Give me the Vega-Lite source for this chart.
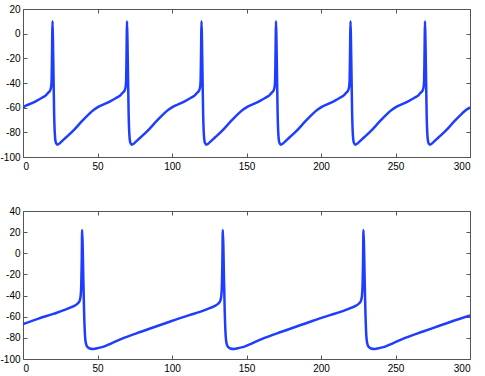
{
  "$schema": "https://vega.github.io/schema/vega-lite/v6.json",
  "padding": {"left": -1, "top": 4, "right": 3, "bottom": 2},
  "spacing": 35,
  "config": {
    "view": {"stroke": null},
    "font": "Liberation Sans",
    "axis": {"grid": false, "domainColor": "#555", "domainWidth": 1, "tickColor": "#555", "tickSize": -4, "labelColor": "#000", "labelFontSize": 10, "title": null},
    "axisX": {"labelPadding": 8},
    "axisY": {"labelPadding": 7, "labelExpr": "toString(datum.value)"}
  },
  "datasets": {
    "top": [
      {"x":0,"v":-60},{"x":0.8,"v":-59.2},{"x":4.8,"v":-57},{"x":8.8,"v":-54.7},{"x":12.8,"v":-52},{"x":15.3,"v":-50},{"x":16.8,"v":-48},{"x":18.2,"v":-46},{"x":18.9,"v":-43},{"x":19.2,"v":-38},{"x":19.4,"v":-25},{"x":19.6,"v":-5},{"x":19.8,"v":10},
      {"x":20.1,"v":-5},{"x":20.5,"v":-35},{"x":20.9,"v":-65},{"x":21.4,"v":-82},{"x":22.1,"v":-88.5},{"x":23.1,"v":-90},{"x":24.1,"v":-89.5},{"x":25.8,"v":-87.5},{"x":28.8,"v":-84.2},{"x":33.4,"v":-79},{"x":38.8,"v":-72},{"x":44.6,"v":-64.8},{"x":47.8,"v":-61.5},{"x":50.8,"v":-59.2},{"x":54.8,"v":-57},{"x":58.8,"v":-54.7},{"x":62.8,"v":-52},{"x":65.3,"v":-50},{"x":66.8,"v":-48},{"x":68.2,"v":-46},{"x":68.9,"v":-43},{"x":69.2,"v":-38},{"x":69.4,"v":-25},{"x":69.6,"v":-5},{"x":69.8,"v":10},
      {"x":70.1,"v":-5},{"x":70.5,"v":-35},{"x":70.9,"v":-65},{"x":71.4,"v":-82},{"x":72.1,"v":-88.5},{"x":73.1,"v":-90},{"x":74.1,"v":-89.5},{"x":75.8,"v":-87.5},{"x":78.8,"v":-84.2},{"x":83.4,"v":-79},{"x":88.8,"v":-72},{"x":94.6,"v":-64.8},{"x":97.8,"v":-61.5},{"x":100.8,"v":-59.2},{"x":104.8,"v":-57},{"x":108.8,"v":-54.7},{"x":112.8,"v":-52},{"x":115.3,"v":-50},{"x":116.8,"v":-48},{"x":118.2,"v":-46},{"x":118.9,"v":-43},{"x":119.2,"v":-38},{"x":119.4,"v":-25},{"x":119.6,"v":-5},{"x":119.8,"v":10},
      {"x":120.1,"v":-5},{"x":120.5,"v":-35},{"x":120.9,"v":-65},{"x":121.4,"v":-82},{"x":122.1,"v":-88.5},{"x":123.1,"v":-90},{"x":124.1,"v":-89.5},{"x":125.8,"v":-87.5},{"x":128.8,"v":-84.2},{"x":133.4,"v":-79},{"x":138.8,"v":-72},{"x":144.6,"v":-64.8},{"x":147.8,"v":-61.5},{"x":150.8,"v":-59.2},{"x":154.8,"v":-57},{"x":158.8,"v":-54.7},{"x":162.8,"v":-52},{"x":165.3,"v":-50},{"x":166.8,"v":-48},{"x":168.2,"v":-46},{"x":168.9,"v":-43},{"x":169.2,"v":-38},{"x":169.4,"v":-25},{"x":169.6,"v":-5},{"x":169.8,"v":10},
      {"x":170.1,"v":-5},{"x":170.5,"v":-35},{"x":170.9,"v":-65},{"x":171.4,"v":-82},{"x":172.1,"v":-88.5},{"x":173.1,"v":-90},{"x":174.1,"v":-89.5},{"x":175.8,"v":-87.5},{"x":178.8,"v":-84.2},{"x":183.4,"v":-79},{"x":188.8,"v":-72},{"x":194.6,"v":-64.8},{"x":197.8,"v":-61.5},{"x":200.8,"v":-59.2},{"x":204.8,"v":-57},{"x":208.8,"v":-54.7},{"x":212.8,"v":-52},{"x":215.3,"v":-50},{"x":216.8,"v":-48},{"x":218.2,"v":-46},{"x":218.9,"v":-43},{"x":219.2,"v":-38},{"x":219.4,"v":-25},{"x":219.6,"v":-5},{"x":219.8,"v":10},
      {"x":220.1,"v":-5},{"x":220.5,"v":-35},{"x":220.9,"v":-65},{"x":221.4,"v":-82},{"x":222.1,"v":-88.5},{"x":223.1,"v":-90},{"x":224.1,"v":-89.5},{"x":225.8,"v":-87.5},{"x":228.8,"v":-84.2},{"x":233.4,"v":-79},{"x":238.8,"v":-72},{"x":244.6,"v":-64.8},{"x":247.8,"v":-61.5},{"x":250.8,"v":-59.2},{"x":254.8,"v":-57},{"x":258.8,"v":-54.7},{"x":262.8,"v":-52},{"x":265.3,"v":-50},{"x":266.8,"v":-48},{"x":268.2,"v":-46},{"x":268.9,"v":-43},{"x":269.2,"v":-38},{"x":269.4,"v":-25},{"x":269.6,"v":-5},{"x":269.8,"v":10},
      {"x":270.1,"v":-5},{"x":270.5,"v":-35},{"x":270.9,"v":-65},{"x":271.4,"v":-82},{"x":272.1,"v":-88.5},{"x":273.1,"v":-90},{"x":274.1,"v":-89.5},{"x":275.8,"v":-87.5},{"x":278.8,"v":-84.2},{"x":283.4,"v":-79},{"x":288.8,"v":-72},{"x":294.6,"v":-64.8},{"x":297.8,"v":-61.5},{"x":300,"v":-59.8}
    ],
    "bot": [
      {"x":0,"v":-67},{"x":10.4,"v":-61.8},{"x":20.4,"v":-57.3},{"x":31.7,"v":-51.5},{"x":34.7,"v":-49.5},{"x":36.7,"v":-47.5},{"x":38.0,"v":-45},{"x":38.7,"v":-40},{"x":39.1,"v":-30},{"x":39.4,"v":-10},{"x":39.7,"v":22},
      {"x":40.1,"v":5},{"x":40.5,"v":-25},{"x":41.0,"v":-55},{"x":41.5,"v":-75},{"x":42.2,"v":-85},{"x":43.2,"v":-88.5},{"x":44.7,"v":-90},{"x":47.2,"v":-90.5},{"x":50.7,"v":-89.5},{"x":54.7,"v":-88},{"x":59.7,"v":-85},{"x":67.7,"v":-80},{"x":79.7,"v":-74},{"x":89.7,"v":-69},{"x":99.7,"v":-64},{"x":111.7,"v":-58.5},{"x":119.7,"v":-55},
      {"x":126.1,"v":-51.5},{"x":129.1,"v":-49.5},{"x":131.1,"v":-47.5},{"x":132.4,"v":-45},{"x":133.1,"v":-40},{"x":133.5,"v":-30},{"x":133.8,"v":-10},{"x":134.1,"v":22},
      {"x":134.5,"v":5},{"x":134.9,"v":-25},{"x":135.4,"v":-55},{"x":135.9,"v":-75},{"x":136.6,"v":-85},{"x":137.6,"v":-88.5},{"x":139.1,"v":-90},{"x":141.6,"v":-90.5},{"x":145.1,"v":-89.5},{"x":149.1,"v":-88},{"x":154.1,"v":-85},{"x":162.1,"v":-80},{"x":174.1,"v":-74},{"x":184.1,"v":-69},{"x":194.1,"v":-64},{"x":206.1,"v":-58.5},{"x":214.1,"v":-55},
      {"x":220.5,"v":-51.5},{"x":223.5,"v":-49.5},{"x":225.5,"v":-47.5},{"x":226.8,"v":-45},{"x":227.5,"v":-40},{"x":227.9,"v":-30},{"x":228.2,"v":-10},{"x":228.5,"v":22},
      {"x":228.9,"v":5},{"x":229.3,"v":-25},{"x":229.8,"v":-55},{"x":230.3,"v":-75},{"x":231.0,"v":-85},{"x":232.0,"v":-88.5},{"x":233.5,"v":-90},{"x":236.0,"v":-90.5},{"x":239.5,"v":-89.5},{"x":243.5,"v":-88},{"x":248.5,"v":-85},{"x":256.5,"v":-80},{"x":268.5,"v":-74},{"x":278.5,"v":-69},{"x":288.5,"v":-64},{"x":300,"v":-58.7}
    ]
  },
  "vconcat": [
    {
      "width": 447, "height": 148,
      "data": {"name": "top"},
      "layer": [
        {
          "mark": {"type": "line", "color": "#1f3dff", "strokeWidth": 2.5, "interpolate": "monotone", "clip": true},
          "encoding": {
            "x": {"field": "x", "type": "quantitative", "scale": {"domain": [0, 300], "nice": false}, "axis": {"orient": "bottom", "values": [0, 50, 100, 150, 200, 250, 300]}},
            "y": {"field": "v", "type": "quantitative", "scale": {"domain": [-100, 20], "nice": false}, "axis": {"orient": "left", "values": [-100, -80, -60, -40, -20, 0, 20]}}
          }
        },
        {
          "mark": {"type": "line", "opacity": 0},
          "encoding": {
            "x": {"field": "x", "type": "quantitative", "axis": {"orient": "top", "labels": false, "values": [0, 50, 100, 150, 200, 250, 300]}},
            "y": {"field": "v", "type": "quantitative", "axis": {"orient": "right", "labels": false, "values": [-100, -80, -60, -40, -20, 0, 20]}}
          }
        }
      ]
    },
    {
      "width": 447, "height": 148,
      "data": {"name": "bot"},
      "layer": [
        {
          "mark": {"type": "line", "color": "#1f3dff", "strokeWidth": 2.5, "interpolate": "monotone", "clip": true},
          "encoding": {
            "x": {"field": "x", "type": "quantitative", "scale": {"domain": [0, 300], "nice": false}, "axis": {"orient": "bottom", "values": [0, 50, 100, 150, 200, 250, 300]}},
            "y": {"field": "v", "type": "quantitative", "scale": {"domain": [-100, 40], "nice": false}, "axis": {"orient": "left", "values": [-100, -80, -60, -40, -20, 0, 20, 40]}}
          }
        },
        {
          "mark": {"type": "line", "opacity": 0},
          "encoding": {
            "x": {"field": "x", "type": "quantitative", "axis": {"orient": "top", "labels": false, "values": [0, 50, 100, 150, 200, 250, 300]}},
            "y": {"field": "v", "type": "quantitative", "axis": {"orient": "right", "labels": false, "values": [-100, -80, -60, -40, -20, 0, 20, 40]}}
          }
        }
      ]
    }
  ]
}
